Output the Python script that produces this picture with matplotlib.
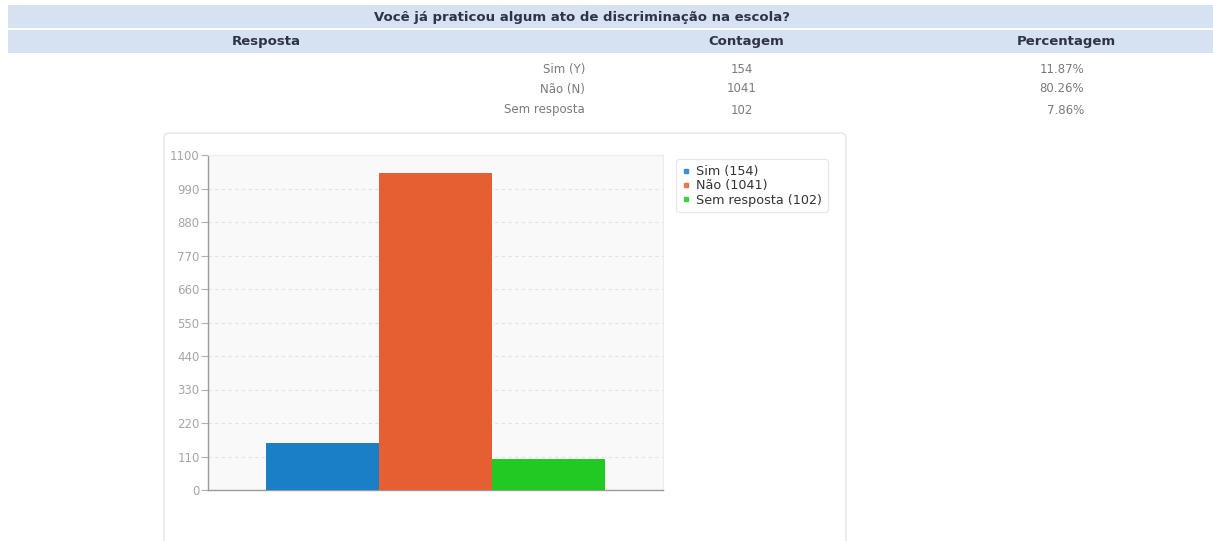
import numpy as np
import matplotlib
matplotlib.use('Agg')
import matplotlib.pyplot as plt
from matplotlib.patches import Rectangle, FancyBboxPatch
from matplotlib.lines import Line2D

# dados da pergunta
question = 'Você já praticou algum ato de discriminação na escola?'
headers = ['Resposta', 'Contagem', 'Percentagem']
answers = ['Sim (Y)', 'Não (N)', 'Sem resposta']
counts = [154, 1041, 102]
percents = ['11.87%', '80.26%', '7.86%']
legend_names = ['Sim', 'Não', 'Sem resposta']
bar_colors = ['#1a7fc7', '#e55f33', '#22c922']
yticks = [0, 110, 220, 330, 440, 550, 660, 770, 880, 990, 1100]

W, H = 1213, 541
fig = plt.figure(figsize=(W / 100, H / 100), dpi=100)
fig.patch.set_facecolor('white')

def fx(px):
    return px / W

def fy(py):
    return 1 - py / H

# faixas azuis do cabeçalho
band = '#d6e1f1'
fig.patches.append(Rectangle((fx(8), fy(28)), fx(1213 - 8), 23 / H,
                             transform=fig.transFigure, facecolor=band, edgecolor='none'))
fig.patches.append(Rectangle((fx(8), fy(53)), fx(1213 - 8), 23 / H,
                             transform=fig.transFigure, facecolor=band, edgecolor='none'))

title_color = '#2f3346'
fig.text(fx(582), fy(17), question, ha='center', va='center', fontsize=9.5,
         fontweight='bold', color=title_color)
for h, x in zip(headers, [266, 746, 1066]):
    fig.text(fx(x), fy(42), h, ha='center', va='center', fontsize=9.5,
             fontweight='bold', color=title_color)

# linhas da tabela
row_y = [69, 89, 110]
for a, c, p, y in zip(answers, counts, percents, row_y):
    fig.text(fx(585), fy(y), a, ha='right', va='center', fontsize=8.5, color='#7a7a7a')
    fig.text(fx(742), fy(y), str(c), ha='center', va='center', fontsize=8.5, color='#7a7a7a')
    fig.text(fx(1084), fy(y), p, ha='right', va='center', fontsize=8.5, color='#7a7a7a')

# painel do gráfico
panel = FancyBboxPatch((fx(164), fy(560)), fx(846 - 164), (560 - 133) / H,
                       boxstyle='round,pad=0,rounding_size=0.006',
                       transform=fig.transFigure, facecolor='white',
                       edgecolor='#e4e4e4', linewidth=1.0, zorder=0)
fig.patches.append(panel)

ax = fig.add_axes([fx(208), fy(490), fx(663 - 208), (490 - 155) / H])
ax.set_zorder(2)
ax.set_facecolor('#f9f9f9')
pos = np.arange(len(counts)) - 1
ax.bar(pos, counts, width=1.0, color=bar_colors, edgecolor='none', zorder=3)
ax.set_xlim(-2.013, 2.013)
ax.set_ylim(0, 1100)
ax.set_yticks(yticks)
ax.set_yticklabels([str(t) for t in yticks])
ax.set_xticks([])
ax.tick_params(axis='y', colors='#b0b0b0', labelsize=8.5, length=5, width=0.8, pad=1)
ax.tick_params(axis='y', labelcolor='#a5a5a5')
ax.yaxis.grid(True, linestyle=(0, (3, 3)), color='#e2e2e2', linewidth=0.8, zorder=0)
for s in ['top', 'right']:
    ax.spines[s].set_color('#ececec')
    ax.spines[s].set_linewidth(0.8)
for s in ['left', 'bottom']:
    ax.spines[s].set_color('#9a9a9a')
    ax.spines[s].set_linewidth(1.0)

# legenda
handles = [Line2D([], [], marker='s', linestyle='none', markersize=3.2,
                  markerfacecolor=c, markeredgecolor=c, alpha=0.8) for c in bar_colors]
labels = [f'{n} ({c})' for n, c in zip(legend_names, counts)]
leg = fig.legend(handles, labels, loc='upper left', bbox_to_anchor=(fx(670), fy(153)),
                 fontsize=9.2, frameon=True, fancybox=True, framealpha=1,
                 edgecolor='#e6e6e6', handlelength=0.6, handletextpad=0.5,
                 labelspacing=0.1, borderpad=0.45, labelcolor='#333333')
leg.get_frame().set_linewidth(0.8)
leg.set_zorder(3)

fig.savefig('out.png', dpi=100, facecolor='white')
